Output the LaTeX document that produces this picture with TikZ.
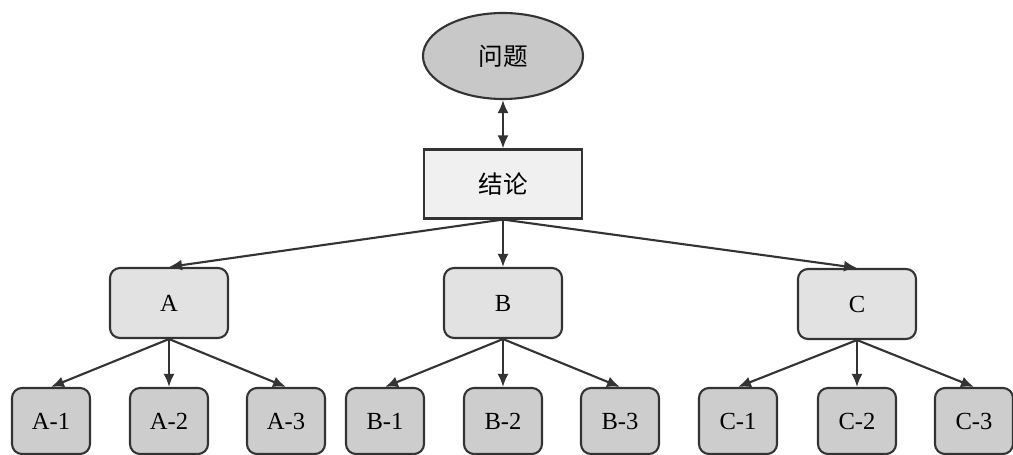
\documentclass[tikz,border=0pt]{standalone}
\usepackage{fontspec}
\setmainfont{Liberation Serif}
\newfontfamily\cjk{Noto Sans CJK SC}
\usetikzlibrary{arrows.meta,shapes}

\definecolor{topgray}{HTML}{C8C8C8}
\definecolor{midgray}{HTML}{E2E2E2}
\definecolor{leafgray}{HTML}{CDCDCD}
\definecolor{boxgray}{HTML}{F0F0F0}
\definecolor{edgegray}{HTML}{333333}

\begin{document}
\begin{tikzpicture}[->,>={Latex[length=0.26cm,width=0.22cm]},line width=1.2pt,draw=edgegray,
 every node/.style={draw=edgegray,line width=1.2pt,anchor=center,align=center,font=\fontsize{14}{16}\selectfont},
 question/.style={ellipse,fill=topgray,minimum width=3.2cm,minimum height=1.72cm},
 answer/.style={rectangle,fill=boxgray,minimum width=3.16cm,minimum height=1.38cm},
 branch/.style={rectangle,rounded corners=0.2cm,fill=midgray,minimum width=2.36cm,minimum height=1.4cm},
 leaf/.style={rectangle,rounded corners=0.2cm,fill=leafgray,minimum width=1.56cm,minimum height=1.32cm}]

  \useasboundingbox (0,0) rectangle (20.26,-9.1);

  \node[question] (q) at (10.06,-1.12) {\cjk 问题};
  \node[answer] (concl) at (10.06,-3.68) {\cjk 结论};

  \node[branch] (a) at (3.38,-6.06) {A};
  \node[branch] (b) at (10.06,-6.06) {B};
  \node[branch] (c) at (17.14,-6.08) {C};

  \node[leaf] (a1) at (1.02,-8.42) {A-1};
  \node[leaf] (a2) at (3.38,-8.42) {A-2};
  \node[leaf] (a3) at (5.72,-8.42) {A-3};
  \node[leaf] (b1) at (7.70,-8.42) {B-1};
  \node[leaf] (b2) at (10.06,-8.42) {B-2};
  \node[leaf] (b3) at (12.40,-8.42) {B-3};
  \node[leaf] (c1) at (14.76,-8.42) {C-1};
  \node[leaf] (c2) at (17.14,-8.42) {C-2};
  \node[leaf] (c3) at (19.48,-8.42) {C-3};

  \draw[<->] (q) -- (concl);

  \draw (concl.south) -- (a.north);
  \draw (concl.south) -- (b.north);
  \draw (concl.south) -- (c.north);

  \draw (a.south) -- (a1.north);
  \draw (a.south) -- (a2.north);
  \draw (a.south) -- (a3.north);

  \draw (b.south) -- (b1.north);
  \draw (b.south) -- (b2.north);
  \draw (b.south) -- (b3.north);

  \draw (c.south) -- (c1.north);
  \draw (c.south) -- (c2.north);
  \draw (c.south) -- (c3.north);

\end{tikzpicture}
\end{document}
